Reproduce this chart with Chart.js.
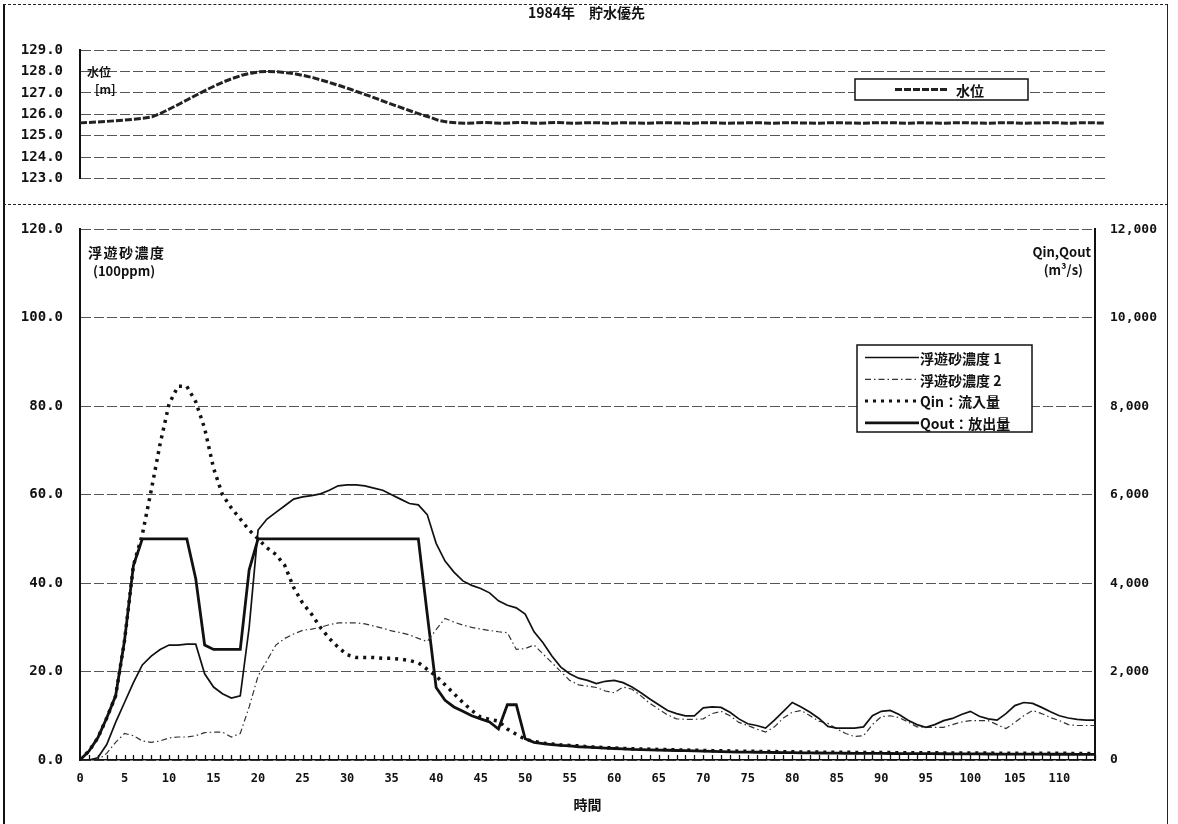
<!DOCTYPE html>
<html>
<head>
<meta charset="utf-8">
<script src="https://cdn.jsdelivr.net/npm/chart.js@4.4.0/dist/chart.umd.min.js"></script>
<style>
  body { margin: 0; background: #fff; width: 1178px; height: 824px; overflow: hidden; position: relative;
         font-family: "Noto Sans CJK JP", sans-serif; font-weight: bold; color: #111; }
  .abs { position: absolute; }
  .note { position: absolute; white-space: nowrap; font-size: 13px; line-height: 16px; z-index: 3; }
  canvas { position: absolute; left: 0; }
</style>
</head>
<body>
<canvas id="levelChart" width="1178" height="204" style="top:0"></canvas>
<canvas id="flowChart" width="1178" height="620" style="top:204px"></canvas>

<!-- frame -->
<div class="abs" style="left:3px;top:4px;width:2px;height:820px;background:#111;z-index:4"></div>
<div class="abs" style="left:3px;top:4px;width:1165px;border-top:1px dashed #222;z-index:4"></div>
<div class="abs" style="left:1167px;top:4px;width:1px;height:820px;background:#222;z-index:4"></div>
<div class="abs" style="left:3px;top:204px;width:1165px;border-top:1px dashed #222;z-index:4"></div>

<div class="note" style="left:528px;top:4px;font-size:14px">1984年　貯水優先</div>
<div class="note" style="left:87px;top:64px;font-size:12px">水位</div>
<div class="note" style="left:95px;top:81px;font-size:12px">[m]</div>
<div class="note" style="left:88px;top:244px;font-size:14px;letter-spacing:1.5px">浮遊砂濃度</div>
<div class="note" style="left:93px;top:263px">(100ppm)</div>
<div class="note" style="left:1025px;top:244px;width:66px;text-align:right">Qin,Qout</div>
<div class="note" style="left:1025px;top:262px;width:58px;text-align:right">(m³/s)</div>

<script>
// hourly time axis
const hours = [
  0, 1, 2, 3, 4, 5, 6, 7, 8, 9, 10, 11, 12, 13, 14, 15, 16, 17, 18, 19,
  20, 21, 22, 23, 24, 25, 26, 27, 28, 29, 30, 31, 32, 33, 34, 35, 36, 37, 38, 39,
  40, 41, 42, 43, 44, 45, 46, 47, 48, 49, 50, 51, 52, 53, 54, 55, 56, 57, 58, 59,
  60, 61, 62, 63, 64, 65, 66, 67, 68, 69, 70, 71, 72, 73, 74, 75, 76, 77, 78, 79,
  80, 81, 82, 83, 84, 85, 86, 87, 88, 89, 90, 91, 92, 93, 94, 95, 96, 97, 98, 99,
  100, 101, 102, 103, 104, 105, 106, 107, 108, 109, 110, 111, 112, 113, 114
];

// 水位 (m)
const level = [
  125.60, 125.62, 125.64, 125.67, 125.70, 125.73, 125.77, 125.82, 125.88, 126.05,
  126.26, 126.47, 126.69, 126.91, 127.13, 127.33, 127.52, 127.68, 127.82, 127.92,
  127.98, 128.00, 127.98, 127.94, 127.88, 127.80, 127.70, 127.58, 127.45, 127.32,
  127.18, 127.03, 126.88, 126.73, 126.57, 126.42, 126.27, 126.12, 125.98, 125.85,
  125.70, 125.63, 125.60, 125.58, 125.60, 125.62, 125.60, 125.58, 125.60, 125.62,
  125.60, 125.58, 125.60, 125.62, 125.60, 125.58, 125.60, 125.61, 125.60, 125.58,
  125.60, 125.60, 125.59, 125.58, 125.60, 125.61, 125.60, 125.59, 125.58, 125.60,
  125.61, 125.60, 125.58, 125.59, 125.60, 125.61, 125.60, 125.58, 125.60, 125.61,
  125.60, 125.59, 125.58, 125.60, 125.61, 125.60, 125.59, 125.58, 125.60, 125.60,
  125.61, 125.60, 125.58, 125.60, 125.60, 125.59, 125.58, 125.60, 125.61, 125.60,
  125.59, 125.58, 125.60, 125.61, 125.60, 125.58, 125.59, 125.60, 125.61, 125.60,
  125.58, 125.60, 125.60, 125.60, 125.59
];

// 浮遊砂濃度 (100ppm)
const ss1 = [
  0, 0, 0.5, 3.5, 8.5, 13, 17.5, 21.5, 23.5, 25,
  26, 26, 26.2, 26.2, 19.5, 16.5, 15, 14, 14.5, 30,
  52, 54.5, 56, 57.5, 59, 59.5, 59.8, 60.2, 61, 62,
  62.2, 62.2, 62, 61.5, 61, 60, 59, 58, 57.7, 55.5,
  49, 45, 42.5, 40.5, 39.5, 38.8, 37.8, 36, 35, 34.4,
  33, 29, 26.5, 23.5, 21, 19.5, 18.5, 18, 17.3, 17.8,
  18, 17.5, 16.5, 15.2, 13.8, 12.5, 11.2, 10.5, 10, 10,
  11.8, 12, 11.9, 10.8, 9.3, 8.2, 7.8, 7.2, 9, 11,
  13, 12, 10.8, 9.4, 7.6, 7.2, 7.2, 7.2, 7.5, 10,
  11, 11.2, 10.3, 9, 8, 7.4, 8, 8.9, 9.4, 10.3,
  11, 9.9, 9.3, 9, 10.5, 12.3, 13, 12.8, 11.9, 10.9,
  10, 9.5, 9.2, 9, 9
];
const ss2 = [
  0, 0, 0, 1.5, 4, 6, 5.5, 4.3, 4, 4.3,
  5, 5.2, 5.2, 5.5, 6.2, 6.3, 6.3, 5.2, 6, 12,
  19, 22.5, 26, 27.5, 28.5, 29.3, 29.6, 30, 30.6, 31,
  31, 31, 30.8, 30.3, 29.8, 29.2, 28.8, 28.3, 27.5, 26.8,
  29.5, 32, 31.2, 30.5, 30, 29.6, 29.3, 29, 28.8, 25,
  25.2, 26, 24, 22, 20, 18, 17, 16.7, 16.4, 15.6,
  15.2, 16.5, 16, 14.5, 12.8, 11.5, 10.2, 9.3, 9.2, 9.2,
  9.3, 10.5, 11, 10, 8.5, 7.8, 7, 6.3, 7.5, 9.5,
  10.8, 11.2, 10, 8.8, 8.3, 7, 6, 5.3, 5.5, 8,
  9.8, 10, 9.6, 8.6, 7.5, 7.4, 7.4, 7.4, 8, 8.6,
  8.9, 8.9, 8.9, 8, 7.1, 8.5, 10, 11.2, 10.5, 9.6,
  8.9, 8, 7.8, 7.8, 7.8
];

// Qin / Qout (m3/s)
const qin = [
  0, 200, 500, 950, 1450, 2700, 4400, 5100, 6100, 7150,
  8050, 8450, 8450, 8100, 7500, 6600, 6000, 5700, 5450, 5200,
  5000, 4800, 4650, 4400, 3900, 3550, 3300, 3000, 2750, 2550,
  2380, 2320, 2320, 2320, 2300, 2300, 2280, 2250, 2200, 2050,
  1900, 1700, 1500, 1300, 1120, 970, 920, 880, 700, 580,
  470, 420, 380, 360, 340, 330, 320, 300, 290, 280,
  270, 260, 255, 250, 245, 240, 235, 230, 225, 220,
  215, 212, 210, 205, 200, 198, 195, 192, 190, 188,
  185, 183, 180, 178, 176, 175, 173, 172, 170, 170,
  168, 167, 166, 165, 164, 163, 162, 161, 160, 160,
  158, 157, 156, 155, 155, 154, 153, 152, 151, 150,
  150, 150, 149, 148, 148
];
const qout = [
  0, 200, 500, 950, 1450, 2700, 4400, 5000, 5000, 5000,
  5000, 5000, 5000, 4100, 2600, 2500, 2500, 2500, 2500, 4300,
  5000, 5000, 5000, 5000, 5000, 5000, 5000, 5000, 5000, 5000,
  5000, 5000, 5000, 5000, 5000, 5000, 5000, 5000, 5000, 3300,
  1640, 1350, 1200, 1100, 1000, 930, 860, 700, 1250, 1250,
  480, 400, 370, 350, 330, 320, 300, 290, 280, 270,
  260, 250, 240, 235, 230, 225, 220, 215, 210, 205,
  200, 195, 190, 185, 180, 178, 175, 172, 170, 168,
  165, 163, 160, 158, 156, 155, 153, 152, 150, 150,
  148, 147, 146, 145, 144, 143, 142, 141, 140, 140,
  138, 137, 136, 135, 135, 134, 133, 132, 131, 130,
  130, 130, 129, 128, 128
];

const numFont = { family: "'DejaVu Sans Mono', monospace", weight: 'bold', size: 14 };
const rightFont = { family: "'DejaVu Sans Mono', monospace", weight: 'bold', size: 13 };
const xFont = { family: "'DejaVu Sans Mono', monospace", weight: 'bold', size: 12 };
const ink = '#111';

// boxed legend drawn inside the plot
const boxLegend = {
  id: 'boxLegend',
  afterDraw(chart, args, opts) {
    const b = opts.box;
    if (!b) return;
    const ctx = chart.ctx;
    ctx.save();
    ctx.fillStyle = '#fff';
    ctx.fillRect(b.x, b.y, b.w, b.h);
    ctx.setLineDash([]);
    ctx.lineWidth = 1.5;
    ctx.strokeStyle = ink;
    ctx.strokeRect(b.x, b.y, b.w, b.h);
    ctx.font = opts.font;
    ctx.fillStyle = ink;
    ctx.textBaseline = 'middle';
    chart.data.datasets.forEach((ds, i) => {
      const yy = b.y + opts.first + i * opts.gap;
      ctx.save();
      ctx.strokeStyle = ds.borderColor;
      ctx.lineWidth = Math.min(ds.borderWidth, 3);
      ctx.setLineDash(ds.borderDash || []);
      ctx.beginPath();
      ctx.moveTo(b.x + opts.x0, yy);
      ctx.lineTo(b.x + opts.x1, yy);
      ctx.stroke();
      ctx.restore();
      ctx.fillText(ds.label, b.x + opts.tx, yy + 1);
    });
    ctx.restore();
  }
};

// small hour ticks pointing up into the plot
const innerTicks = {
  id: 'innerTicks',
  afterDatasetsDraw(chart, args, opts) {
    if (!opts.length) return;
    const x = chart.scales.x;
    const y0 = chart.chartArea.bottom;
    const ctx = chart.ctx;
    ctx.save();
    ctx.strokeStyle = ink;
    ctx.lineWidth = 1.3;
    hours.forEach((h, i) => {
      const px = Math.round(x.getPixelForValue(i)) + 0.5;
      ctx.beginPath();
      ctx.moveTo(px, y0);
      ctx.lineTo(px, y0 - opts.length);
      ctx.stroke();
    });
    ctx.restore();
  }
};

new Chart(document.getElementById('levelChart'), {
  type: 'line',
  data: {
    labels: hours,
    datasets: [{
      label: '水位',
      data: level,
      borderColor: '#222',
      borderWidth: 3,
      borderDash: [7, 2],
      pointRadius: 0,
      tension: 0
    }]
  },
  options: {
    responsive: false,
    animation: false,
    layout: { padding: { top: 50, bottom: 17, left: 0, right: 73 } },
    plugins: {
      legend: { display: false },
      tooltip: { enabled: false },
      boxLegend: { box: { x: 855, y: 79, w: 173, h: 21 }, first: 10.5, gap: 0, x0: 40, x1: 92,
                   tx: 101, font: "bold 14px 'Noto Sans CJK JP'" }
    },
    scales: {
      x: { display: false, offset: false },
      y: {
        min: 123, max: 129,
        afterFit: s => { s.width = 80; },
        ticks: { stepSize: 1, padding: 17, color: ink, font: numFont, callback: v => v.toFixed(1) },
        grid: { color: '#555', lineWidth: 1, drawTicks: false },
        border: { display: true, color: ink, width: 2, dash: [10, 3] }
      }
    }
  },
  plugins: [boxLegend]
});

new Chart(document.getElementById('flowChart'), {
  type: 'line',
  data: {
    labels: hours,
    datasets: [
      { label: '浮遊砂濃度 1', data: ss1, yAxisID: 'y', borderColor: ink, borderWidth: 1.7,
        pointRadius: 0, tension: 0 },
      { label: '浮遊砂濃度 2', data: ss2, yAxisID: 'y', borderColor: '#333', borderWidth: 1.2,
        borderDash: [6, 3, 1.5, 3], pointRadius: 0, tension: 0 },
      { label: 'Qin：流入量', data: qin, yAxisID: 'y2', borderColor: ink, borderWidth: 3.5,
        borderDash: [3, 5], pointRadius: 0, tension: 0 },
      { label: 'Qout：放出量', data: qout, yAxisID: 'y2', borderColor: ink, borderWidth: 2.8,
        pointRadius: 0, tension: 0 }
    ]
  },
  options: {
    responsive: false,
    animation: false,
    layout: { padding: { top: 18, bottom: 0, left: 0, right: 0 } },
    plugins: {
      legend: { display: false },
      tooltip: { enabled: false },
      innerTicks: { length: 5 },
      boxLegend: { box: { x: 857, y: 141, w: 175, h: 87 }, first: 12.5, gap: 21.8, x0: 8, x1: 62,
                   tx: 63, font: "bold 14px 'Noto Sans CJK JP'" }
    },
    scales: {
      x: {
        offset: false,
        afterFit: s => { s.height = 64; },
        grid: { display: false, drawTicks: false },
        border: { display: true, color: ink, width: 1.5 },
        ticks: {
          autoSkip: false, maxRotation: 0, padding: 12, color: ink, font: xFont,
          callback(v, i) { return i % 5 === 0 ? this.getLabelForValue(v) : ''; }
        },
        title: { display: true, text: '時間', color: ink, padding: { top: 0, bottom: 11 },
                 font: { family: "'Noto Sans CJK JP'", weight: 'bold', size: 14 } }
      },
      y: {
        position: 'left', min: 0, max: 120,
        afterFit: s => { s.width = 80; },
        ticks: { stepSize: 20, padding: 17, color: ink, font: numFont, callback: v => v.toFixed(1) },
        grid: { color: '#555', lineWidth: 1, drawTicks: false },
        border: { display: true, color: ink, width: 2, dash: [10, 3] }
      },
      y2: {
        position: 'right', min: 0, max: 12000,
        afterFit: s => { s.width = 83; },
        ticks: { stepSize: 2000, padding: 15, color: ink, font: rightFont,
                 callback: v => v.toLocaleString('en-US') },
        grid: { drawOnChartArea: false, drawTicks: false },
        border: { display: true, color: ink, width: 2 }
      }
    }
  },
  plugins: [innerTicks, boxLegend]
});
</script>
</body>
</html>
